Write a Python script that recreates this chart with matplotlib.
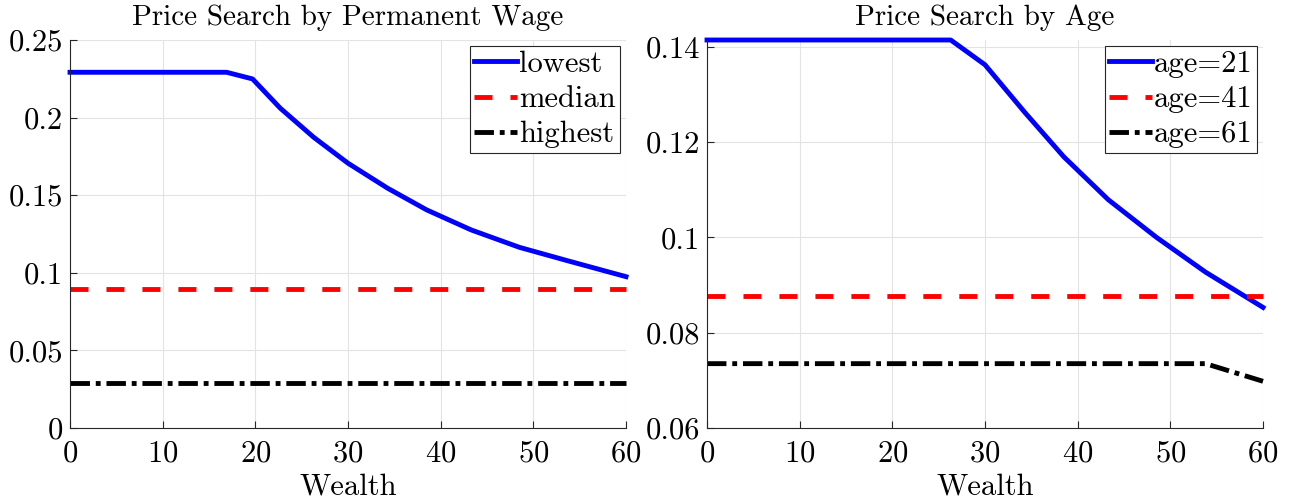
import matplotlib
matplotlib.use("Agg")
import matplotlib.pyplot as plt
from matplotlib.ticker import FuncFormatter

# ---- data -------------------------------------------------------------
wealth = [0, 16.9, 19.7, 22.7, 26.3, 30.0, 34.3, 38.5, 43.3, 48.5, 53.8, 60]

wage_lowest = [0.2292, 0.2292, 0.2249, 0.2060, 0.1873, 0.1706, 0.1544,
               0.1405, 0.1276, 0.1164, 0.1076, 0.0975]
wage_median = [0.0896] * len(wealth)
wage_highest = [0.0290] * len(wealth)

age21 = [0.1414, 0.1414, 0.1414, 0.1414, 0.1414, 0.1362, 0.1262,
         0.1169, 0.1079, 0.1000, 0.0927, 0.0853]
age41 = [0.0877] * len(wealth)
age61 = [0.0735, 0.0735, 0.0735, 0.0735, 0.0735, 0.0735, 0.0735,
         0.0735, 0.0735, 0.0735, 0.0735, 0.0698]

wage_labels = ["lowest", "median", "highest"]
age_labels = ["age=21", "age=41", "age=61"]

plt.rcParams["font.family"] = ["cmr10", "DejaVu Serif"]
plt.rcParams["axes.formatter.use_mathtext"] = True

AX_COL = "#262626"
LW = 3.5
FS = 22


def style(ax, ylim, yticks, title):
    ax.set_xlim(0, 60)
    ax.set_ylim(*ylim)
    ax.set_xticks(range(0, 61, 10))
    ax.set_yticks(yticks)
    ax.yaxis.set_major_formatter(FuncFormatter(lambda v, p: f"{v:g}"))
    for s in ("top", "right"):
        ax.spines[s].set_visible(False)
    for s in ("left", "bottom"):
        ax.spines[s].set_color(AX_COL)
        ax.spines[s].set_linewidth(0.8)
    ax.tick_params(direction="in", length=5, width=0.8, colors=AX_COL,
                   labelcolor="black", labelsize=FS)
    ax.tick_params(axis="x", pad=9)
    ax.tick_params(axis="y", pad=5)
    ax.grid(True, color="#e3e3e3", linewidth=0.8)
    ax.set_axisbelow(True)
    ax.set_title(title, fontsize=21, pad=11)
    ax.set_xlabel("Wealth", fontsize=FS, labelpad=4)


def draw(ax, series, labels):
    styles = [dict(color="#0000ff", linestyle="-"),
              dict(color="#ff0000", dashes=(3.7, 3.7)),
              dict(color="black", dashes=(4.0, 1.2, 1.0, 1.2))]
    for y, lab, st in zip(series, labels, styles):
        ax.plot(wealth, y, lw=LW, label=lab, clip_on=False, **st)
    leg = ax.legend(loc="upper right", handlelength=1.4, handletextpad=0.05,
                    labelspacing=0.25, borderpad=0.15, borderaxespad=0.2,
                    fancybox=False, framealpha=1, fontsize=FS)
    leg.get_frame().set_edgecolor(AX_COL)
    leg.get_frame().set_linewidth(0.8)


fig = plt.figure(figsize=(12.98, 5.01), dpi=100)
ax1 = fig.add_axes([70 / 1298, 73 / 501, 556 / 1298, 388 / 501])
ax2 = fig.add_axes([707 / 1298, 73 / 501, 556 / 1298, 388 / 501])

draw(ax1, [wage_lowest, wage_median, wage_highest], wage_labels)
style(ax1, (0, 0.25), [0, 0.05, 0.1, 0.15, 0.2, 0.25],
      "Price Search by Permanent Wage")

draw(ax2, [age21, age41, age61], age_labels)
style(ax2, (0.06, max(age21)), [0.06, 0.08, 0.1, 0.12, 0.14],
      "Price Search by Age")

fig.savefig("out.png", dpi=100)
